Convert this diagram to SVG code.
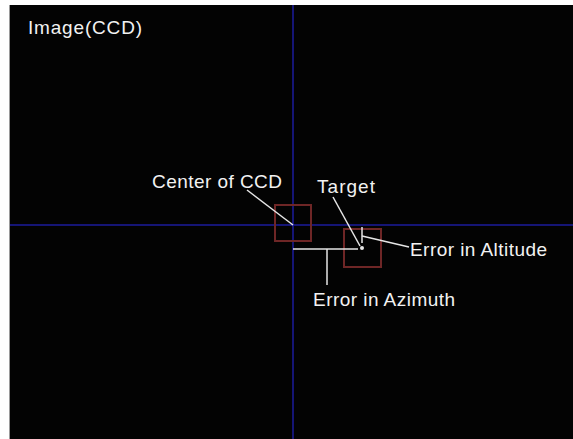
<svg xmlns="http://www.w3.org/2000/svg" width="573" height="439" viewBox="0 0 573 439">
  <style>
    .lbl { font-family: "Liberation Sans", Arial, sans-serif; font-size: 19px; fill: #f2f2f2; }
    .axis { stroke: #1c1c9c; stroke-width: 1.5; fill: none; }
    .box { stroke: #6e2626; stroke-width: 2; fill: none; }
    .lead { stroke: #e6e6e6; stroke-width: 1.5; fill: none; }
  </style>
  <rect x="0" y="0" width="573" height="439" fill="#ffffff"/>
  <g id="image-ccd">
    <rect x="10" y="5" width="563" height="434" fill="#030303"/>
    <line x1="9.5" y1="5" x2="9.5" y2="439" stroke="#9a9a9a" stroke-width="1"/>
    <text class="lbl" x="28" y="34" textLength="114" lengthAdjust="spacing">Image(CCD)</text>
  </g>
  <g id="axes">
    <line class="axis" x1="293" y1="5" x2="293" y2="439"/>
    <line class="axis" x1="10" y1="225" x2="573" y2="225"/>
  </g>
  <g id="center-of-ccd">
    <rect class="box" x="275" y="205" width="36" height="36"/>
    <text class="lbl" x="152" y="188" textLength="130" lengthAdjust="spacing">Center of CCD</text>
  </g>
  <g id="target">
    <rect class="box" x="344" y="229" width="37" height="38"/>
    <circle cx="362" cy="248" r="2" fill="#e6e6e6"/>
    <text class="lbl" x="317" y="193" textLength="58" lengthAdjust="spacing">Target</text>
  </g>
  <g id="error-altitude">
    <text class="lbl" x="410" y="256" textLength="137" lengthAdjust="spacing">Error in Altitude</text>
  </g>
  <g id="error-azimuth">
    <text class="lbl" x="313" y="306" textLength="142" lengthAdjust="spacing">Error in Azimuth</text>
  </g>
  <g id="connectors">
    <line class="lead" x1="247" y1="190" x2="293" y2="225"/>
    <line class="lead" x1="333" y1="197" x2="360" y2="246"/>
    <line class="lead" x1="293" y1="249" x2="358" y2="249"/>
    <line class="lead" x1="327" y1="249" x2="327" y2="285"/>
    <line class="lead" x1="362" y1="227" x2="362" y2="243"/>
    <line class="lead" x1="362" y1="236" x2="409" y2="247"/>
  </g>
</svg>
